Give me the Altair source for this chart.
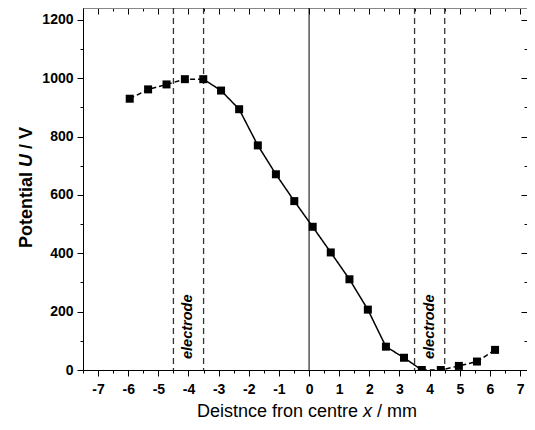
import altair as alt
import pandas as pd

# measured data
x_mm = [-5.95, -5.34, -4.73, -4.12, -3.51, -2.92, -2.32, -1.70, -1.10, -0.49,
        0.12, 0.72, 1.34, 1.95, 2.55, 3.15, 3.74, 4.37, 4.97, 5.57, 6.17]
u_v = [930, 962, 979, 997, 997, 958, 894, 770, 671, 579,
       491, 403, 311, 207, 80, 42, 0, 0, 14, 29, 69]

# electrode boundaries (mm)
elec_lo = [-4.5, 3.5]
elec_hi = [-3.5, 4.5]
elec_label = ["electrode", "electrode"]

x_ticks = [v / 2 for v in range(-15, 15)]
y_ticks = list(range(0, 1300, 100))

W, H = 444, 362
FONT = "Liberation Sans"

pts = pd.DataFrame({"x": x_mm, "u": u_v})

# line segments: dashed from the electrode outward, solid in between
seg_rows = []
n = len(x_mm)
for i in range(n):
    if i <= 4:
        seg_rows.append({"x": x_mm[i], "u": u_v[i], "seg": "a", "style": "dash"})
    if 4 <= i <= 16:
        seg_rows.append({"x": x_mm[i], "u": u_v[i], "seg": "b", "style": "solid"})
    if i >= 16:
        seg_rows.append({"x": x_mm[i], "u": u_v[i], "seg": "c", "style": "dash"})
segs = pd.DataFrame(seg_rows)

xscale = alt.Scale(domain=[-7.5, 7.23], nice=False, zero=False)
yscale = alt.Scale(domain=[0, 1241], nice=False, zero=False)

x_tick_size = {"condition": {"test": "datum.value % 1 === 0", "value": 6}, "value": 3}
y_tick_size = {"condition": {"test": "datum.value % 200 === 0", "value": 6}, "value": 3}

common_axis = dict(
    grid=False, domainColor="black", domainWidth=1, tickColor="black", tickWidth=1,
    labelFont=FONT, labelFontSize=14, labelFontWeight="bold", labelColor="black",
)

x_bottom = alt.Axis(orient="bottom", values=x_ticks, tickSize=x_tick_size,
                    labelExpr="datum.value % 1 === 0 ? '' + datum.value : ''",
                    labelPadding=6, title="", labelFlush=False, labelOverlap=False,
                    **common_axis)
y_left = alt.Axis(orient="left", values=y_ticks, tickSize=y_tick_size,
                  labelExpr="datum.value % 200 === 0 ? '' + datum.value : ''",
                  labelPadding=4, title="", labelFlush=False, labelOverlap=False,
                  **common_axis)
x_top = alt.Axis(orient="bottom", offset=-H, values=x_ticks, tickSize=x_tick_size,
                 labels=False, title="", **common_axis)
y_right = alt.Axis(orient="left", offset=-W, values=y_ticks, tickSize=y_tick_size,
                   labels=False, title="", **common_axis)

line = alt.Chart(segs).mark_line(color="black", strokeWidth=1.5, clip=True).encode(
    x=alt.X("x:Q", scale=xscale, axis=x_bottom),
    y=alt.Y("u:Q", scale=yscale, axis=y_left),
    detail="seg:N",
    strokeDash=alt.StrokeDash("style:N", scale=alt.Scale(domain=["dash", "solid"], range=[[5, 3], [1, 0]]), legend=None),
)

frame = alt.Chart(pts).mark_point(opacity=0).encode(
    x=alt.X("x:Q", scale=xscale, axis=x_top),
    y=alt.Y("u:Q", scale=yscale, axis=y_right),
)

points = alt.Chart(pts).mark_square(color="black", size=64, opacity=1, clip=True).encode(
    x=alt.X("x:Q", scale=xscale),
    y=alt.Y("u:Q", scale=yscale),
)

elec = pd.DataFrame({"lo": elec_lo, "hi": elec_hi, "label": elec_label})
elec_long = pd.DataFrame({"pos": elec_lo + elec_hi})

elec_rules = alt.Chart(elec_long).mark_rule(color="#333333", strokeWidth=1.3, strokeDash=[6, 4]).encode(
    x=alt.X("pos:Q", scale=xscale)
)

centre_rule = alt.Chart(pd.DataFrame({"pos": [0]})).mark_rule(color="black", strokeWidth=1).encode(
    x=alt.X("pos:Q", scale=xscale)
)

elec_text = alt.Chart(elec).transform_calculate(mid="(datum.lo + datum.hi) / 2").mark_text(
    angle=270, align="left", baseline="middle", font=FONT, fontSize=14.5,
    fontStyle="italic", fontWeight="bold", color="black",
).encode(
    x=alt.X("mid:Q", scale=xscale),
    y=alt.value(351),
    text="label:N",
)

def seg_text(txt, x, y, size, weight="normal", style="normal", angle=0):
    return alt.Chart(pd.DataFrame({"t": [txt]})).mark_text(
        align="left", baseline="alphabetic", font=FONT, fontSize=size,
        fontWeight=weight, fontStyle=style, angle=angle, color="black",
    ).encode(x=alt.value(x), y=alt.value(y), text="t:N")

# x-axis title: "Deistnce fron centre x / mm"
XT_Y = 409
xt1 = seg_text("Deistnce fron centre", 114, XT_Y, 18)
xt2 = seg_text("x", 280, XT_Y, 18, style="italic")
xt3 = seg_text("/ mm", 294, XT_Y, 18)

# y-axis title: "Potential U / V"
yt1 = seg_text("Potential", -51, 240, 18, weight="bold", angle=270)
yt2 = seg_text("U", -51, 159, 18, weight="bold", style="italic", angle=270)
yt3 = seg_text("/ V", -51, 141, 18, weight="bold", angle=270)

chart = alt.layer(
    line, frame, elec_rules, centre_rule, points, elec_text,
    xt1, xt2, xt3, yt1, yt2, yt3,
).resolve_axis(x="independent", y="independent").properties(
    width=W, height=H,
    autosize=alt.AutoSizeParams(type="none"),
    padding={"left": 75, "top": 0, "right": 0, "bottom": 49},
    background="white",
).configure_view(strokeWidth=0)

chart.save("out.html", embed_options={"renderer": "svg", "actions": False})
